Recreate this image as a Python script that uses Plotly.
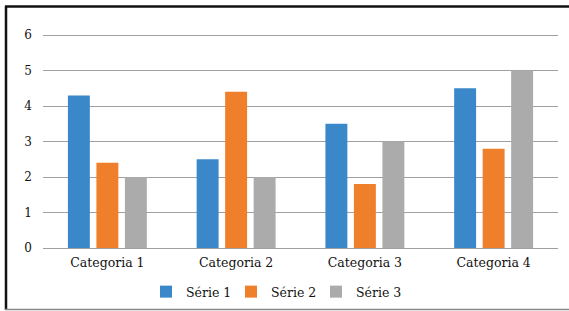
import plotly.graph_objects as go

categories = ["Categoria 1", "Categoria 2", "Categoria 3", "Categoria 4"]
serie1 = [4.3, 2.5, 3.5, 4.5]
serie2 = [2.4, 4.4, 1.8, 2.8]
serie3 = [2.0, 2.0, 3.0, 5.0]
series_names = ["Série 1", "Série 2", "Série 3"]
colors = ["#3a88c9", "#f07f2b", "#ababab"]

W, H = 569, 311
L, R, T, B = 43, 11, 34, 63

fig = go.Figure()
for name, vals, c in zip(series_names, [serie1, serie2, serie3], colors):
    fig.add_trace(go.Bar(x=categories, y=vals, name=name, marker_color=c,
                         marker_line_width=0))

font = "DejaVu Serif"
fig.update_layout(
    width=W, height=H,
    margin=dict(l=L, r=R, t=T, b=B, autoexpand=False),
    paper_bgcolor="white", plot_bgcolor="white",
    barmode="group", bargap=0.336, bargroupgap=0.23,
    font=dict(family=font, size=12, color="#111111"),
    xaxis=dict(showgrid=False, ticks="", tickfont=dict(size=12.5, family=font),
               showline=True, linecolor="#a0a0a0", linewidth=1,
               ticklabelstandoff=3),
    yaxis=dict(range=[0, 6.03], tickvals=[0, 1, 2, 3, 4, 5, 6], showgrid=True,
               gridcolor="#a0a0a0", gridwidth=1, zeroline=False, ticks="",
               ticklabelstandoff=10, tickfont=dict(size=12, family=font)),
    legend=dict(orientation="h", x=(146 - L) / (W - L - R), xanchor="left",
                y=-(292 - (H - B)) / (H - T - B), yanchor="middle",
                font=dict(size=12.5, family=font), itemwidth=30,
                entrywidth=40, entrywidthmode="pixels",
                traceorder="normal", bgcolor="rgba(0,0,0,0)"),
    showlegend=True,
)

pw = W - L - R
ph = H - T - B
def px(x):
    return (x - L) / pw
def py(y):
    return (H - B - y) / ph

fig.add_shape(type="line", xref="paper", yref="paper",
              x0=px(5), x1=px(569), y0=py(6.5), y1=py(6.5),
              line=dict(color="#111111", width=2.5))
fig.add_shape(type="line", xref="paper", yref="paper",
              x0=px(6), x1=px(6), y0=py(6), y1=py(310),
              line=dict(color="#111111", width=2.5))
fig.add_shape(type="line", xref="paper", yref="paper",
              x0=px(5), x1=px(569), y0=py(309.5), y1=py(309.5),
              line=dict(color="#888888", width=1.5))

fig.write_html("out.html", config={"displayModeBar": False},
               post_script="document.body.style.margin='0px';document.body.style.overflow='hidden';")
